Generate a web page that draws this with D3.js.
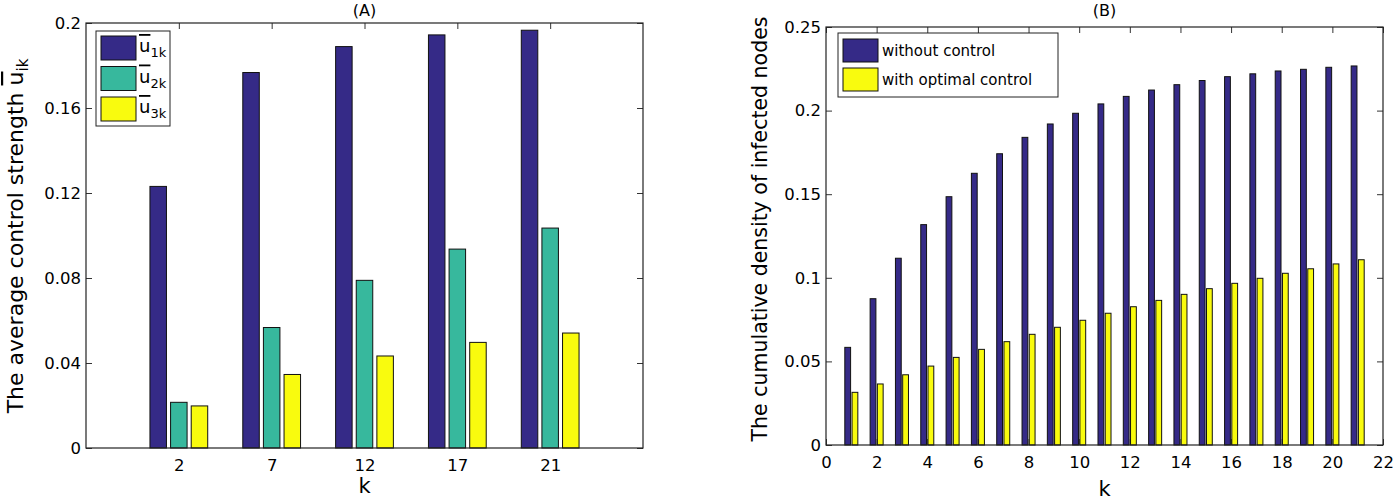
<!DOCTYPE html>
<html><head><meta charset="utf-8">
<script src="https://cdn.jsdelivr.net/npm/d3@7"></script>
<style>
body{margin:0;background:#fff}
svg{display:block}
text{font-family:"DejaVu Sans",sans-serif;fill:#000}
</style>
</head><body>
<svg id="c" width="1394" height="500"></svg>
<script>
// ---------- Panel A data ----------
const catsA = ["2", "7", "12", "17", "21"];
const u1k = [0.1231, 0.1767, 0.1889, 0.1944, 0.1966];
const u2k = [0.0215, 0.0567, 0.0789, 0.0936, 0.1035];
const u3k = [0.0198, 0.0346, 0.0433, 0.0497, 0.0541];
const yTicksA = [0, 0.04, 0.08, 0.12, 0.16, 0.2];
const legendA = ["1k", "2k", "3k"];

// ---------- Panel B data ----------
const kB = [1,2,3,4,5,6,7,8,9,10,11,12,13,14,15,16,17,18,19,20,21];
const withoutControl = [0.0584, 0.0875, 0.1117, 0.1318, 0.1485, 0.1625, 0.1742, 0.1840, 0.1920, 0.1984, 0.2040,
  0.2085, 0.2123, 0.2155, 0.2180, 0.2203, 0.2220, 0.2237, 0.2247, 0.2259, 0.2267];
const withControl = [0.0315, 0.0365, 0.0420, 0.0472, 0.0524, 0.0572, 0.0618, 0.0662, 0.0704, 0.0746, 0.0788,
  0.0827, 0.0865, 0.0901, 0.0935, 0.0967, 0.0997, 0.1027, 0.1054, 0.1083, 0.1108];
const xTicksB = [0,2,4,6,8,10,12,14,16,18,20,22];
const yTicksB = [0, 0.05, 0.1, 0.15, 0.2, 0.25];
const legendB = ["without control", "with optimal control"];

const C_BLUE = "#352a87", C_TEAL = "#37b89d", C_YEL = "#f9fb0e";
const svg = d3.select("#c");

function frame(g, x, y, xTicks, yTicks) {
  const [x0, x1] = x.range(), [y0, y1] = y.range();
  const tl = 6;
  const la = g.append("g").attr("transform", `translate(${x0},0)`)
    .call(d3.axisLeft(y).tickValues(yTicks).tickSizeInner(-tl).tickSizeOuter(0).tickPadding(5).tickFormat(d3.format("")));
  const ra = g.append("g").attr("transform", `translate(${x1},0)`)
    .call(d3.axisRight(y).tickValues(yTicks).tickSizeInner(-tl).tickSizeOuter(0).tickFormat(""));
  const ba = g.append("g").attr("transform", `translate(0,${y0})`)
    .call(d3.axisBottom(x).tickValues(xTicks.map(t => t.v)).tickSizeInner(-tl).tickSizeOuter(0).tickPadding(11)
      .tickFormat((d, i) => xTicks[i].label));
  const ta = g.append("g").attr("transform", `translate(0,${y1})`)
    .call(d3.axisTop(x).tickValues(xTicks.map(t => t.v)).tickSizeInner(-tl).tickSizeOuter(0).tickFormat(""));
  [la, ra, ba, ta].forEach(a => {
    a.select(".domain").remove();
    a.selectAll("line").attr("stroke", "#333").attr("stroke-width", 1);
    a.selectAll("text").style("font-family", '"DejaVu Sans",sans-serif').attr("fill", "#000");
  });
  la.selectAll("text").style("font-size", "16.5px");
  ba.selectAll("text").style("font-size", "16.5px");
}

function box(g, x, y) {
  const [x0, x1] = x.range(), [y0, y1] = y.range();
  g.append("rect").attr("x", x0).attr("y", y1).attr("width", x1 - x0).attr("height", y0 - y1)
    .attr("fill", "none").attr("stroke", "#222").attr("stroke-width", 1.2);
}

// ================= Panel A =================
{
  const g = svg.append("g");
  const x = d3.scaleLinear().domain([0, 6]).range([86, 643]);
  const y = d3.scaleLinear().domain([0, 0.2]).range([448, 23]);
  const xt = catsA.map((c, i) => ({v: i + 1, label: c}));
  frame(g, x, y, xt, yTicksA);
  const series = [u1k, u2k, u3k], cols = [C_BLUE, C_TEAL, C_YEL];
  const slot = (2 / 3) / 3, bw = slot * 0.8;
  series.forEach((s, j) => {
    g.append("g").selectAll("rect").data(s).join("rect")
      .attr("x", (d, i) => x(i + 1 + (j - 1) * slot - bw / 2))
      .attr("width", x(bw) - x(0))
      .attr("y", d => y(d)).attr("height", d => y(0) - y(d))
      .attr("fill", cols[j]).attr("stroke", "#111").attr("stroke-width", 1);
  });
  box(g, x, y);
  g.append("text").attr("x", (x.range()[0] + x.range()[1]) / 2).attr("y", 16).attr("text-anchor", "middle")
    .style("font-size", "16px").text("(A)");
  g.append("text").attr("x", (x.range()[0] + x.range()[1]) / 2).attr("y", 493).attr("text-anchor", "middle")
    .style("font-size", "21px").text("k");
  const yl = g.append("text").attr("transform", "translate(23,236) rotate(-90)").attr("text-anchor", "middle")
    .style("font-size", "22px");
  yl.append("tspan").text("The average control strength ");
  yl.append("tspan").style("text-decoration", "overline").text("u");
  yl.append("tspan").attr("dy", 5).style("font-size", "15px").text("ik");
  // legend
  const lg = g.append("g");
  lg.append("rect").attr("x", 96).attr("y", 31).attr("width", 74).attr("height", 95)
    .attr("fill", "#fff").attr("stroke", "#222").attr("stroke-width", 1);
  legendA.forEach((lab, j) => {
    const yy = 36 + j * 30.5;
    lg.append("rect").attr("x", 101).attr("y", yy).attr("width", 35).attr("height", 24)
      .attr("fill", cols[j]).attr("stroke", "#111").attr("stroke-width", 1);
    const t = lg.append("text").attr("x", 139).attr("y", yy + 16).style("font-size", "18px");
    t.append("tspan").style("text-decoration", "overline").text("u");
    t.append("tspan").attr("dy", 5).style("font-size", "13px").text(lab);
  });
}

// ================= Panel B =================
{
  const g = svg.append("g");
  const x = d3.scaleLinear().domain([0, 22]).range([826, 1383]);
  const y = d3.scaleLinear().domain([0, 0.25]).range([445, 27]);
  const xt = xTicksB.map(v => ({v, label: String(v)}));
  frame(g, x, y, xt, yTicksB);
  const series = [withoutControl, withControl], cols = [C_BLUE, C_YEL];
  const slot = (2 / 3.5) / 2, bw = slot * 0.8;
  series.forEach((s, j) => {
    g.append("g").selectAll("rect").data(s).join("rect")
      .attr("x", (d, i) => x(kB[i] + (j - 0.5) * slot - bw / 2))
      .attr("width", x(bw) - x(0))
      .attr("y", d => y(d)).attr("height", d => y(0) - y(d))
      .attr("fill", cols[j]).attr("stroke", "#111").attr("stroke-width", 1);
  });
  box(g, x, y);
  g.append("text").attr("x", (x.range()[0] + x.range()[1]) / 2).attr("y", 16).attr("text-anchor", "middle")
    .style("font-size", "16px").text("(B)");
  g.append("text").attr("x", (x.range()[0] + x.range()[1]) / 2).attr("y", 496).attr("text-anchor", "middle")
    .style("font-size", "21px").text("k");
  g.append("text").attr("transform", "translate(767,229) rotate(-90)").attr("text-anchor", "middle")
    .style("font-size", "20.5px").text("The cumulative density of infected nodes");
  const lg = g.append("g");
  lg.append("rect").attr("x", 838).attr("y", 33).attr("width", 220).attr("height", 64)
    .attr("fill", "#fff").attr("stroke", "#222").attr("stroke-width", 1);
  legendB.forEach((lab, j) => {
    const yy = 39 + j * 29;
    lg.append("rect").attr("x", 843).attr("y", yy).attr("width", 35).attr("height", 23)
      .attr("fill", cols[j]).attr("stroke", "#111").attr("stroke-width", 1);
    lg.append("text").attr("x", 882).attr("y", yy + 17).style("font-size", "15px").text(lab);
  });
}
</script>
</body></html>
